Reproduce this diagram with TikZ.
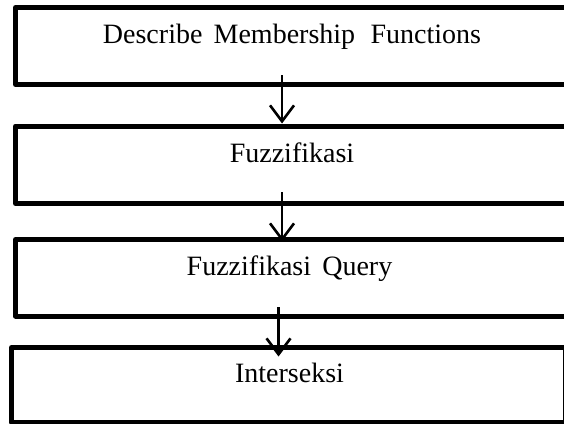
\documentclass[tikz,border=0pt]{standalone}
\usepackage{fontspec}
\setmainfont{Liberation Serif}
\usetikzlibrary{arrows.meta,calc}

\tikzset{
  flowbox/.style={draw=black, line width=5pt, line join=round, rectangle,
                  inner sep=0pt, outer sep=0pt, fill=none},
  boxtext/.style={anchor=base, inner sep=0pt, font=\fontsize{28}{30}\selectfont},
  flowarrow/.style={line width=2.6pt,
                    -{Straight Barb[length=16pt,width=24pt,line width=2.6pt]}},
}

\begin{document}
\begin{tikzpicture}[x=1pt, y=-1pt]
  \useasboundingbox (0,0) rectangle (564,423);
  \fill[white] (0,0) rectangle (564,423);
  \begin{scope}
  \clip (0,0) rectangle (564,423);

  % process boxes (the first three run past the right edge)
  \node[flowbox, minimum width=640pt, minimum height=77pt,   anchor=north west] (b1) at (15.5,7.5) {};
  \node[flowbox, minimum width=640pt, minimum height=77.5pt, anchor=north west] (b2) at (15.5,126) {};
  \node[flowbox, minimum width=640pt, minimum height=76.5pt, anchor=north west] (b3) at (15.5,239.5) {};
  \node[flowbox, minimum width=553.5pt, minimum height=75pt, anchor=north west] (b4) at (11.5,347.5) {};

  % box captions
  \node[boxtext] (t1) at (292,43)
    {Describe\hspace{0.4em}Membership\hspace{0.55em}Functions};
  \node[boxtext] (t2) at (292,162) {Fuzzifikasi};
  \node[boxtext] (t3) at (289.5,275) {Fuzzifikasi\hspace{0.4em}Query};
  \node[boxtext] (t4) at (289.5,382) {Interseksi};

  % arrow start points inside each box, just above its lower border
  \coordinate (s1) at (282,75);
  \coordinate (s2) at (282,192);
  \coordinate (s3) at (278.5,307);

  \draw[flowarrow] (s1) -- ($(s1 |- b2.north)+(0,-2.5)$);
  \draw[flowarrow] (s2) -- ($(s2 |- b3.north)+(0,2)$);
  \draw[flowarrow] (s3) -- ($(s3 |- b4.north)+(0,9)$);
  \end{scope}
\end{tikzpicture}
\end{document}
